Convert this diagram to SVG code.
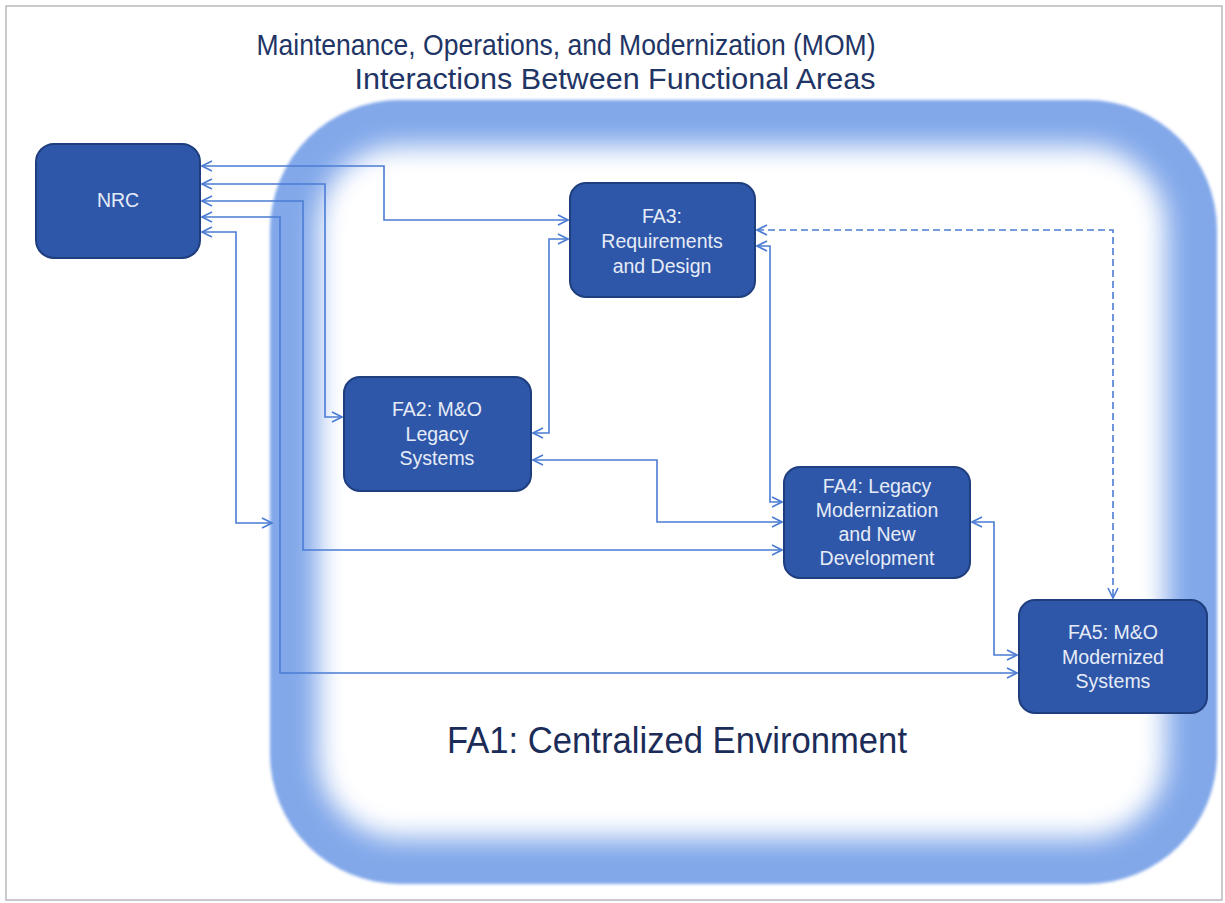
<svg xmlns="http://www.w3.org/2000/svg" width="1225" height="903" viewBox="0 0 1225 903">
<defs>
<style>
.node{fill:#2F57A9;stroke:#1F3E7E;stroke-width:2}
.ntext{font-family:"Liberation Sans",Arial,sans-serif;font-size:19.5px;fill:#E6ECF7;text-anchor:middle}
.title{font-family:"Liberation Sans",Arial,sans-serif;font-size:29px;fill:#1F3566;text-anchor:middle}
.fa1{font-family:"Liberation Sans",Arial,sans-serif;font-size:36px;fill:#1C2C58;text-anchor:middle}
.conn{fill:none;stroke:#4B7CD4;stroke-width:1.6;marker-start:url(#arr);marker-end:url(#arr)}
.dash{stroke-dasharray:7 4}
</style>
<marker id="arr" viewBox="0 0 12 12" refX="11" refY="6" markerWidth="12" markerHeight="12" markerUnits="userSpaceOnUse" orient="auto-start-reverse">
<path d="M1,1 L11,6 L1,11" fill="none" stroke="#4B7CD4" stroke-width="1.6"/>
</marker>
<filter id="blur" x="-10%" y="-10%" width="120%" height="120%">
<feGaussianBlur stdDeviation="13"/>
</filter>
<filter id="soft" x="-5%" y="-5%" width="110%" height="110%">
<feGaussianBlur stdDeviation="1.5"/>
</filter>
</defs>
<rect x="0" y="0" width="1225" height="903" fill="#FFFFFF"/>
<rect x="6" y="6" width="1216" height="894" fill="none" stroke="#B8B8BE" stroke-width="1.5"/>

<g id="fa1-environment">
<rect x="270" y="100" width="947" height="784" rx="130" fill="#82A8EA" filter="url(#soft)"/>
<rect x="318" y="146" width="848" height="692" rx="82" fill="#FFFFFF" filter="url(#blur)"/>
<text class="fa1" x="677" y="753" textLength="460" lengthAdjust="spacingAndGlyphs">FA1: Centralized Environment</text>
</g>

<g id="title">
<text class="title" x="566" y="55" textLength="619" lengthAdjust="spacingAndGlyphs">Maintenance, Operations, and Modernization (MOM)</text>
<text class="title" x="615" y="89" textLength="521" lengthAdjust="spacingAndGlyphs">Interactions Between Functional Areas</text>
</g>

<g id="connectors">
<path class="conn" d="M202,166 H384 V220 H568"/>
<path class="conn" d="M202,184 H325 V417 H342"/>
<path class="conn" d="M202,201 H303 V550 H782"/>
<path class="conn" d="M202,217 H280 V673 H1017"/>
<path class="conn" d="M202,232 H236 V523 H272"/>
<path class="conn" d="M533,433 H549 V239 H568"/>
<path class="conn" d="M533,460 H657 V522 H782"/>
<path class="conn" d="M757,246 H770 V502 H782"/>
<path class="conn" d="M972,522 H994 V655 H1017"/>
<path class="conn dash" d="M757,230 H1113 V598"/>
</g>

<g id="nrc">
<rect class="node" x="36" y="144" width="164" height="114" rx="18"/>
<text class="ntext" x="118" y="207">NRC</text>
</g>

<g id="fa3">
<rect class="node" x="570" y="183" width="185" height="114" rx="16"/>
<text class="ntext" x="662" y="223">FA3:</text>
<text class="ntext" x="662" y="248">Requirements</text>
<text class="ntext" x="662" y="273">and Design</text>
</g>

<g id="fa2">
<rect class="node" x="344" y="377" width="187" height="114" rx="16"/>
<text class="ntext" x="437" y="416">FA2: M&amp;O</text>
<text class="ntext" x="437" y="441">Legacy</text>
<text class="ntext" x="437" y="465">Systems</text>
</g>

<g id="fa4">
<rect class="node" x="784" y="467" width="186" height="111" rx="16"/>
<text class="ntext" x="877" y="493">FA4: Legacy</text>
<text class="ntext" x="877" y="517">Modernization</text>
<text class="ntext" x="877" y="541">and New</text>
<text class="ntext" x="877" y="565">Development</text>
</g>

<g id="fa5">
<rect class="node" x="1019" y="600" width="188" height="113" rx="16"/>
<text class="ntext" x="1113" y="639">FA5: M&amp;O</text>
<text class="ntext" x="1113" y="664">Modernized</text>
<text class="ntext" x="1113" y="688">Systems</text>
</g>
</svg>
